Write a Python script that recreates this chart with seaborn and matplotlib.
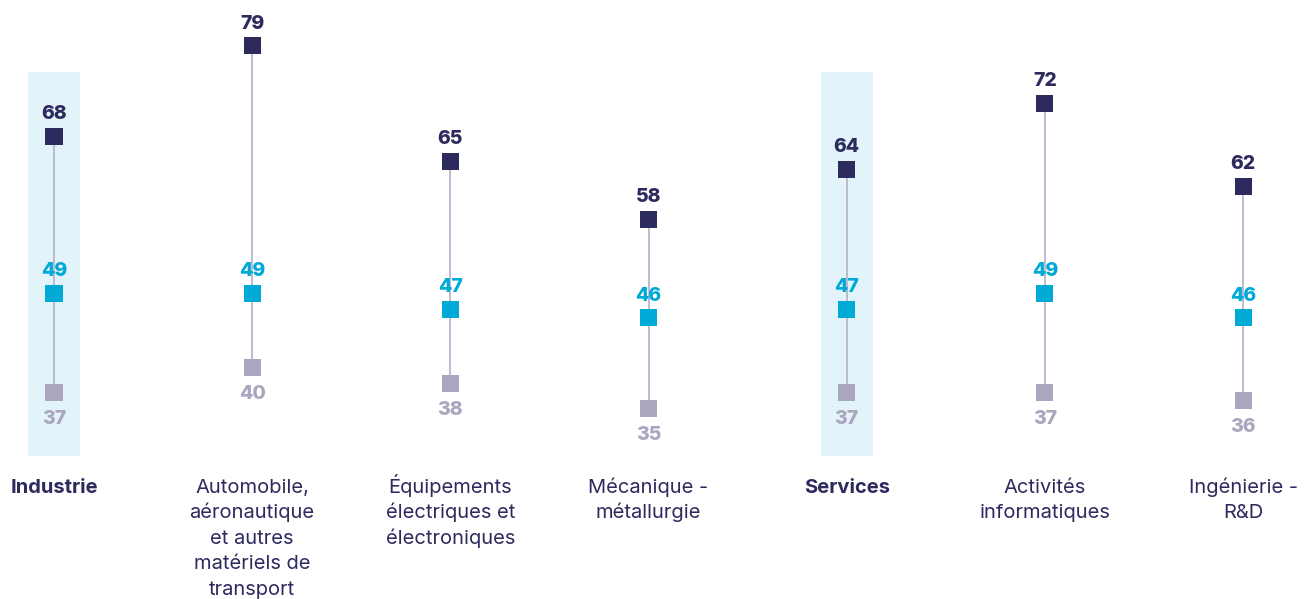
import matplotlib
matplotlib.use("Agg")
import matplotlib.pyplot as plt
from matplotlib.patches import Rectangle
import pandas as pd
import seaborn as sns

categories = [
    "Industrie",
    "Automobile,\naéronautique\net autres\nmatériels de\ntransport",
    "Équipements\nélectriques et\nélectroniques",
    "Mécanique -\nmétallurgie",
    "Services",
    "Activités\ninformatiques",
    "Ingénierie -\nR&D",
]
bold_categories = ["Industrie", "Services"]
high = [68, 79, 65, 58, 64, 72, 62]
mid = [49, 49, 47, 46, 47, 49, 46]
low = [37, 40, 38, 35, 37, 37, 36]

NAVY = "#2d2a5e"
CYAN = "#00aad6"
GREY = "#aaa6bf"
LINE = "#bab5cc"
HILITE = "#e2f3fa"

sns.set_theme(style="white")
plt.rcParams["font.family"] = ["Inter", "DejaVu Sans"]

x = list(range(len(categories)))
df = pd.DataFrame({
    "x": x * 3,
    "value": high + mid + low,
    "series": ["high"] * 7 + ["mid"] * 7 + ["low"] * 7,
})

fig = plt.figure(figsize=(13.1, 5.99), dpi=100)
ax = fig.add_axes([0, 0, 1, 1])
ax.set_xlim(-0.2725, 6.338)
ax.set_ylim(11.9, 84.58)
ax.axis("off")

# highlighted aggregate columns
for i, cat in enumerate(categories):
    if cat in bold_categories:
        ax.add_patch(Rectangle((i - 0.132, 29.24), 0.264, 46.6,
                               facecolor=HILITE, edgecolor="none", zorder=0))

ax.vlines(x, low, high, color=LINE, linewidth=1.3, zorder=1)

sns.scatterplot(data=df, x="x", y="value", hue="series", marker="s", s=150,
                palette={"high": NAVY, "mid": CYAN, "low": GREY},
                edgecolor="none", linewidth=0, legend=False, ax=ax, zorder=3)

for i in x:
    ax.annotate(f"{high[i]}", (i, high[i]), xytext=(0, 16), textcoords="offset points",
                ha="center", va="center", fontsize=14, fontweight="heavy", color=NAVY)
    ax.annotate(f"{mid[i]}", (i, mid[i]), xytext=(0, 16), textcoords="offset points",
                ha="center", va="center", fontsize=14, fontweight="heavy", color=CYAN)
    ax.annotate(f"{low[i]}", (i, low[i]), xytext=(0, -19), textcoords="offset points",
                ha="center", va="center", fontsize=14, fontweight="heavy", color=GREY)
    cat = categories[i]
    # one line at a time so accents don't shift the first baseline
    for k, line in enumerate(cat.split("\n")):
        ax.annotate(line, (i, 24.8), xytext=(0, -18.4 * k), textcoords="offset points",
                    ha="center", va="baseline", fontsize=14.5, color=NAVY,
                    fontweight="bold" if cat in bold_categories else "normal")

fig.savefig("out.png", dpi=100)
